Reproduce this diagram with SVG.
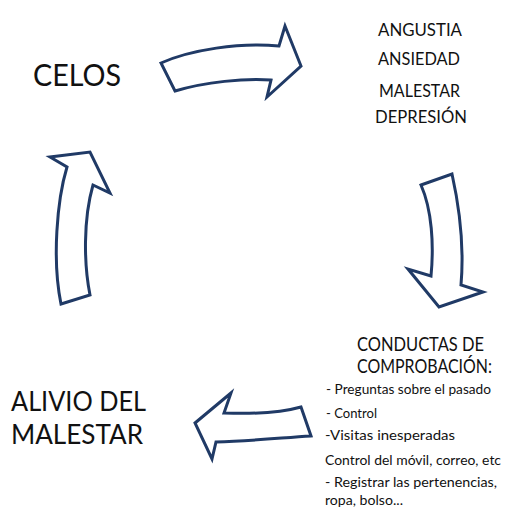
<svg xmlns="http://www.w3.org/2000/svg" width="525" height="516" viewBox="0 0 525 516">
<style>
.arrow{fill:#ffffff;stroke:#203a66;stroke-width:3;stroke-linejoin:miter}
text{font-family:Lato,"Liberation Sans",sans-serif;fill:#111111}
.big{font-size:31px}
.mid{font-size:27px}
.lst{font-size:17px}
.hd{font-size:20px}
.sm{font-size:14px}
</style>
<rect width="525" height="516" fill="#ffffff"/>
<g id="connectors">
<path class="arrow" d="M161,63 C190,50 240,42 279,46 L285,26 L301,66 L267,97 L271,80 C245,78 205,82 175,91 Z"/>
<path class="arrow" d="M421,185 L452,174 C460,210 464,250 461,285 L483,292 L439,307 L408,269 L431,276 C434,245 432,210 421,185 Z"/>
<path class="arrow" d="M301,407 L311,436 C280,438 250,441 216,442 L212,459 L195,423 L231,393 L224,413 C250,414 280,413 301,407 Z"/>
<path class="arrow" d="M61,304 L90,295 C84,265 83,220 93,185 L110,193 L90,152 L50,157 L67,167 C57,200 52,260 61,304 Z"/>
</g>
<g id="celos">
<text class="big" x="33" y="86" textLength="88" lengthAdjust="spacingAndGlyphs">CELOS</text>
</g>
<g id="emociones">
<text class="lst" x="378" y="36" textLength="84" lengthAdjust="spacingAndGlyphs">ANGUSTIA</text>
<text class="lst" x="378" y="65" textLength="82" lengthAdjust="spacingAndGlyphs">ANSIEDAD</text>
<text class="lst" x="379" y="97" textLength="81" lengthAdjust="spacingAndGlyphs">MALESTAR</text>
<text class="lst" x="375" y="123" textLength="92" lengthAdjust="spacingAndGlyphs">DEPRESIÓN</text>
</g>
<g id="conductas">
<text class="hd" x="357" y="351" textLength="127" lengthAdjust="spacingAndGlyphs">CONDUCTAS DE</text>
<text class="hd" x="357" y="373" textLength="135" lengthAdjust="spacingAndGlyphs">COMPROBACIÓN:</text>
<text class="sm" x="326" y="394" textLength="165" lengthAdjust="spacingAndGlyphs">- Preguntas sobre el pasado</text>
<text class="sm" x="326" y="418" textLength="51" lengthAdjust="spacingAndGlyphs">- Control</text>
<text class="sm" x="325" y="440" textLength="130" lengthAdjust="spacingAndGlyphs">-Visitas inesperadas</text>
<text class="sm" x="325" y="465" textLength="176" lengthAdjust="spacingAndGlyphs">Control del móvil, correo, etc</text>
<text class="sm" x="325" y="487" textLength="172" lengthAdjust="spacingAndGlyphs">- Registrar las pertenencias,</text>
<text class="sm" x="325" y="505" textLength="78" lengthAdjust="spacingAndGlyphs">ropa, bolso...</text>
</g>
<g id="alivio">
<text class="mid" x="11" y="411" textLength="135" lengthAdjust="spacingAndGlyphs">ALIVIO DEL</text>
<text class="mid" x="11" y="444" textLength="132" lengthAdjust="spacingAndGlyphs">MALESTAR</text>
</g>
</svg>
